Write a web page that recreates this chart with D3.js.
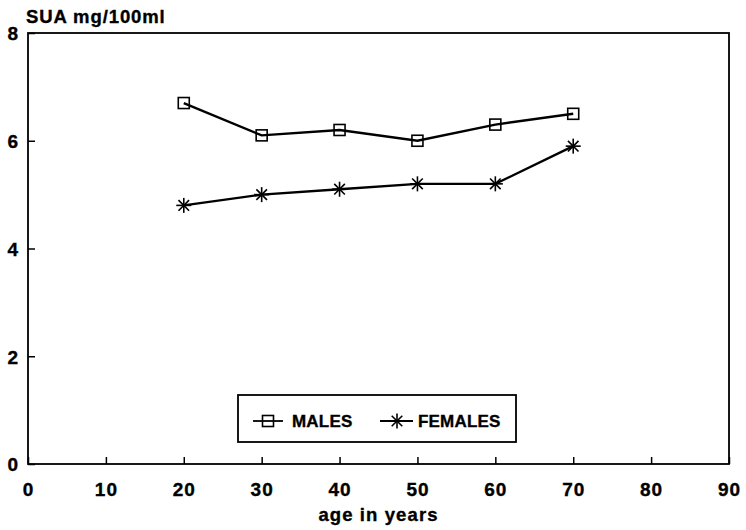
<!DOCTYPE html>
<html><head><meta charset="utf-8">
<script src="https://cdn.jsdelivr.net/npm/d3@7"></script>
<style>
html,body{margin:0;padding:0;background:#fff;}
text{font-family:"Liberation Sans",Arial,sans-serif;font-weight:bold;fill:#000;stroke:#000;stroke-width:0.35px;}
</style></head>
<body><svg id="c" width="746" height="530"></svg>
<script>
const ages = [20, 30, 40, 50, 60, 70];
const males = [6.7, 6.1, 6.2, 6.0, 6.3, 6.5];
const females = [4.8, 5.0, 5.1, 5.2, 5.2, 5.9];
const xTicks = [0, 10, 20, 30, 40, 50, 60, 70, 80, 90];
const yTicks = [0, 2, 4, 6, 8];
const seriesNames = ["MALES", "FEMALES"];

const svg = d3.select("#c");
const L = 28, R = 729, T = 33, B = 464;
const x = d3.scaleLinear().domain([0, 90]).range([L, R]);
const y = d3.scaleLinear().domain([0, 8]).range([B, T]);

// frame
svg.append("rect").attr("x", L).attr("y", T).attr("width", R - L).attr("height", B - T)
  .attr("fill", "none").attr("stroke", "#000").attr("stroke-width", 1.8);

// x axis
const xAxis = svg.append("g").attr("transform", `translate(0,${B})`)
  .call(d3.axisBottom(x).tickValues(xTicks).tickSizeInner(-7).tickSizeOuter(0).tickPadding(32).tickFormat(d3.format("d")));
xAxis.select(".domain").remove();
xAxis.selectAll("line").attr("stroke", "#000").attr("stroke-width", 1.5);
xAxis.selectAll("text").attr("font-size", 19).attr("font-family", "Liberation Sans").attr("font-weight", "bold")
  .attr("letter-spacing", "1px").attr("dy", "0");

// y axis
const yAxis = svg.append("g").attr("transform", `translate(${L},0)`)
  .call(d3.axisLeft(y).tickValues(yTicks).tickSizeInner(-7).tickSizeOuter(0).tickPadding(10).tickFormat(d3.format("d")));
yAxis.select(".domain").remove();
yAxis.selectAll("line").attr("stroke", "#000").attr("stroke-width", 1.5);
yAxis.selectAll("text").attr("font-size", 19).attr("font-family", "Liberation Sans").attr("font-weight", "bold").attr("dy", "0.36em");

// titles
svg.append("text").attr("x", 26).attr("y", 23).attr("font-size", 18.5).attr("letter-spacing", "0.9px").text("SUA mg/100ml");
svg.append("text").attr("x", (L + R) / 2).attr("y", 521).attr("text-anchor", "middle")
  .attr("font-size", 18.5).attr("letter-spacing", "1.1px").text("age in years");

const line = d3.line().x(d => x(d[0])).y(d => y(d[1]));
const mData = ages.map((a, i) => [a, males[i]]);
const fData = ages.map((a, i) => [a, females[i]]);

function square(g, cx, cy) {
  g.append("rect").attr("x", cx - 5.5).attr("y", cy - 5.5).attr("width", 11).attr("height", 11)
    .attr("fill", "none").attr("stroke", "#000").attr("stroke-width", 1.6);
}
function star(g, cx, cy) {
  const r = 7.5;
  [0, 45, 90, 135].forEach(a => {
    const t = a * Math.PI / 180;
    g.append("line").attr("x1", cx - r * Math.cos(t)).attr("y1", cy - r * Math.sin(t))
      .attr("x2", cx + r * Math.cos(t)).attr("y2", cy + r * Math.sin(t))
      .attr("stroke", "#000").attr("stroke-width", 1.6);
  });
}

svg.append("path").datum(mData).attr("d", line).attr("fill", "none").attr("stroke", "#000").attr("stroke-width", 2.4);
svg.append("path").datum(fData).attr("d", line).attr("fill", "none").attr("stroke", "#000").attr("stroke-width", 2.4);
const mg = svg.append("g"), fg = svg.append("g");
mData.forEach(d => square(mg, x(d[0]), y(d[1])));
fData.forEach(d => star(fg, x(d[0]), y(d[1])));

// legend
const lg = svg.append("g");
lg.append("rect").attr("x", 238).attr("y", 395).attr("width", 278).attr("height", 47)
  .attr("fill", "#fff").attr("stroke", "#000").attr("stroke-width", 1.8);
const ly = 421;
lg.append("line").attr("x1", 253).attr("x2", 283).attr("y1", ly).attr("y2", ly).attr("stroke", "#000").attr("stroke-width", 1.8);
square(lg, 268, ly);
lg.append("text").attr("x", 292).attr("y", ly + 6).attr("font-size", 17).attr("letter-spacing", "0.2px").text(seriesNames[0]);
lg.append("line").attr("x1", 380).attr("x2", 413).attr("y1", ly).attr("y2", ly).attr("stroke", "#000").attr("stroke-width", 1.8);
star(lg, 397, ly);
lg.append("text").attr("x", 418).attr("y", ly + 6).attr("font-size", 17).attr("letter-spacing", "0.2px").text(seriesNames[1]);
</script></body></html>
